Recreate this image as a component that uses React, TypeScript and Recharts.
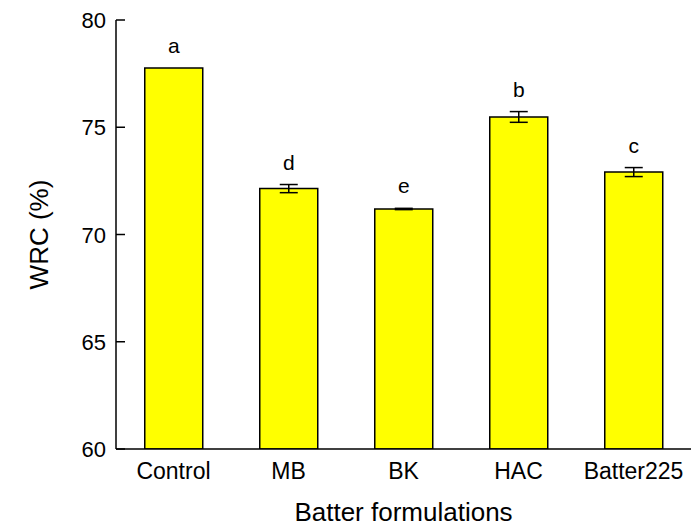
import React from 'react';
import { BarChart, Bar, XAxis, YAxis, ErrorBar, LabelList } from 'recharts';

const categories = ['Control', 'MB', 'BK', 'HAC', 'Batter225'];
const wrcMeans = [77.76, 72.14, 71.19, 75.48, 72.91];
const wrcSd = [0, 0.19, 0.03, 0.25, 0.21];
const letters = ['a', 'd', 'e', 'b', 'c'];
const yTicks = [60, 65, 70, 75, 80];

const data = categories.map((name, i) => ({
  name,
  wrc: wrcMeans[i],
  sd: wrcSd[i],
  letter: letters[i],
}));

const FONT = '"Liberation Sans", Arial, sans-serif';

// left axis: labels outside, tick marks pointing into the plot
function YTick({ x, y, payload }: any) {
  return (
    <g>
      <line x1={x} x2={x + 9} y1={y} y2={y} stroke="#000" strokeWidth={1.5} />
      <text x={x - 10} y={y} dy={8} textAnchor="end" fontSize={22} fontFamily={FONT} fill="#000">
        {payload.value}
      </text>
    </g>
  );
}

function XTick({ x, y, payload }: any) {
  return (
    <text x={x} y={y} dy={22} textAnchor="middle" fontSize={23} fontFamily={FONT} fill="#000">
      {payload.value}
    </text>
  );
}

// significance letter sits above the error bar
function LetterLabel({ x, y, width, index, value }: any) {
  const sd = data[index].sd;
  return (
    <text x={x + width / 2} y={y - sd * 21.45 - 15} textAnchor="middle" fontSize={21} fontFamily={FONT} fill="#000">
      {value}
    </text>
  );
}

export default function App() {
  return (
    <div style={{ position: 'absolute', left: 0, top: 0, background: '#fff' }}>
      <BarChart width={693} height={526} data={data} margin={{ top: 20, right: 2, bottom: 0, left: 0 }} barCategoryGap="25%">
        <XAxis
          dataKey="name"
          height={77}
          tickLine={false}
          axisLine={{ stroke: '#000', strokeWidth: 1.5 }}
          tick={<XTick />}
          interval={0}
          label={{ value: 'Batter formulations', position: 'insideBottom', offset: 5, style: { fontSize: 26, fontFamily: FONT, fill: '#000' } }}
        />
        <XAxis xAxisId="top" dataKey="name" orientation="top" height={0} tick={false} tickLine={false} axisLine={{ stroke: '#000', strokeWidth: 1.5 }} />
        <YAxis
          domain={[60, 80]}
          ticks={yTicks}
          width={116}
          tickSize={0}
          tickMargin={0}
          tickLine={false}
          axisLine={{ stroke: '#000', strokeWidth: 1.5 }}
          tick={<YTick />}
          allowDataOverflow
          label={{ value: 'WRC (%)', angle: -90, position: 'insideLeft', offset: 39, style: { fontSize: 26, fontFamily: FONT, fill: '#000', textAnchor: 'middle' } }}
        />
        <YAxis yAxisId="right" orientation="right" width={0} domain={[60, 80]} tick={false} tickLine={false} axisLine={{ stroke: '#000', strokeWidth: 1.5 }} />
        <Bar dataKey="wrc" fill="#FFFF00" stroke="#000" strokeWidth={1.5} isAnimationActive={false}>
          <ErrorBar dataKey="sd" width={9} stroke="#000" strokeWidth={1.5} direction="y" />
          <LabelList dataKey="letter" content={<LetterLabel />} />
        </Bar>
      </BarChart>
    </div>
  );
}
